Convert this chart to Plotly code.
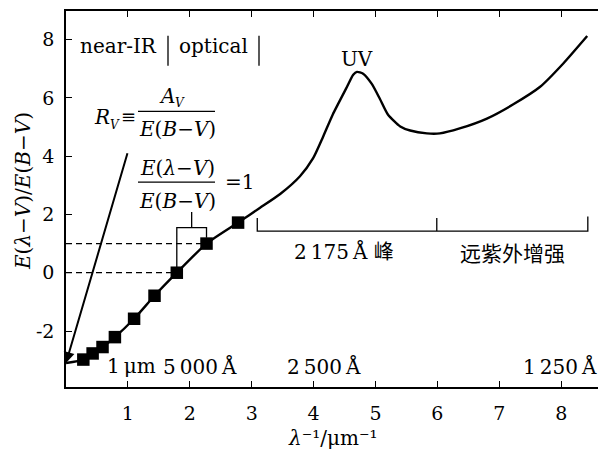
import plotly.graph_objects as go

# ---------------- data ----------------
# photometric band points (squares)
band_x = [0.28, 0.43, 0.59, 0.79, 1.10, 1.43, 1.79, 2.27, 2.78]
band_y = [-2.98, -2.77, -2.55, -2.21, -1.58, -0.79, 0.0, 1.0, 1.72]
# curve value at lambda^-1 = 0  (= -R_V)
RV = 3.1
# UV part of the extinction curve
uv_x = [3.13, 3.46, 3.78, 3.99, 4.15, 4.31, 4.54, 4.64, 4.70, 4.80, 4.94, 5.07, 5.20,
        5.40, 5.56, 5.83, 6.04, 6.36, 6.80, 7.22, 7.66, 8.03, 8.42]
uv_y = [2.22, 2.70, 3.31, 3.92, 4.65, 5.43, 6.38, 6.79, 6.89, 6.83, 6.48, 5.97, 5.43,
        5.02, 4.88, 4.78, 4.78, 4.95, 5.29, 5.77, 6.38, 7.17, 8.12]
# R_V line (from top end down to the arrow tip at -R_V)
rv_line_x = [1.0, 0.0]
rv_line_y = [4.15, -RV]

x_ticks = [1, 2, 3, 4, 5, 6, 7, 8]
y_ticks = [-2, 0, 2, 4, 6, 8]
y_tick_text = ["-2", "0", "2", "4", "6", "8"]

wl_labels = ["1\u2009μm", "5\u2009000\u2009Å", "2\u2009500\u2009Å", "1\u2009250\u2009Å"]

# ---------------- layout helpers ----------------
W_FIG, H_FIG = 606, 460
OFF = 8                      # page body margin
L, R, T, B = 58, 8, 1, 81
PW, PH = W_FIG - L - R, H_FIG - T - B
X0 = 0.0
X1 = PW / 61.9
Y1 = 8.98
Y0 = Y1 - PH / 29.3


def fx(px):  # page pixel -> paper x
    return (px - OFF - L) / PW


def fy(py):  # page pixel -> paper y
    return 1 - (py - OFF - T) / PH


def dx(px):
    return X0 + fx(px) * (X1 - X0)


def dy(py):
    return Y0 + fy(py) * (Y1 - Y0)


FONT = "DejaVu Serif, Liberation Serif, Noto Sans CJK SC, serif"
CJK = "Noto Sans CJK SC, DejaVu Serif, serif"
FS = 20

fig = go.Figure()

curve_x = [0.0] + band_x + uv_x
curve_y = [-RV] + band_y + uv_y
fig.add_trace(go.Scatter(x=curve_x, y=curve_y, mode="lines",
                         line=dict(color="black", width=2.4, shape="spline", smoothing=0.6),
                         hoverinfo="skip", showlegend=False, cliponaxis=False))
fig.add_trace(go.Scatter(x=band_x, y=band_y, mode="markers",
                         marker=dict(symbol="square", size=12.5, color="black"),
                         showlegend=False))

# R_V line with arrow head
fig.add_annotation(x=rv_line_x[1], y=rv_line_y[1], ax=rv_line_x[0], ay=rv_line_y[0],
                   xref="x", yref="y", axref="x", ayref="y", text="", showarrow=True,
                   arrowhead=2, arrowsize=1.1, arrowwidth=2, arrowcolor="black", standoff=0)

# dashed reference lines at V (0) and B (1)
iv, ib = 6, 7
for i in (iv, ib):
    fig.add_trace(go.Scatter(x=[0, band_x[i]], y=[band_y[i], band_y[i]], mode="lines",
                             line=dict(color="black", width=1.3, dash="6px,4px"),
                             hoverinfo="skip", showlegend=False))

# small bracket between V and B
yb = 1.55
xm = (band_x[iv] + band_x[ib]) / 2
fig.add_trace(go.Scatter(
    x=[band_x[iv], band_x[iv], band_x[ib], band_x[ib], None, xm, xm],
    y=[band_y[iv] + 0.2, yb, yb, band_y[ib] + 0.2, None, yb, 2.08],
    mode="lines", line=dict(color="black", width=1.3), hoverinfo="skip", showlegend=False))

# big bracket 2175 A bump / far-UV rise
bx = [3.09, 5.99, 8.43]
ybb, ytop = 1.43, 1.88
fig.add_trace(go.Scatter(
    x=[bx[0], bx[0], bx[2], bx[2], None, bx[1], bx[1]],
    y=[ytop, ybb, ybb, ytop + 0.05, None, ybb, ytop],
    mode="lines", line=dict(color="black", width=1.3), hoverinfo="skip", showlegend=False))

# near-IR | optical separators
for px in (168, 259):
    fig.add_shape(type="line", xref="x", yref="y", x0=dx(px), x1=dx(px), y0=dy(34), y1=dy(64),
                  line=dict(color="black", width=1.3))

# fraction bars
for py in (110, 181):
    fig.add_shape(type="line", xref="x", yref="y", x0=dx(138), x1=dx(215), y0=dy(py), y1=dy(py),
                  line=dict(color="black", width=1.2))


def txt(px, py, s, size=FS, family=FONT, xanchor="center", angle=0):
    fig.add_annotation(x=fx(px), y=fy(py), xref="paper", yref="paper", text=s, showarrow=False,
                       font=dict(family=family, size=size, color="black"), borderpad=0,
                       xanchor=xanchor, yanchor="middle", textangle=angle)


txt(118, 44, "near-IR")
txt(213, 44, "optical")
txt(357, 57, "UV")
# R_V = A_V / E(B-V)
txt(102, 116, "<i>R</i>")
txt(115, 124, "<i>V</i>", size=12)
txt(128, 115, "≡", size=18)
txt(167, 94, "<i>A</i>")
txt(180, 101, "<i>V</i>", size=12)
txt(177, 128, "<i>E</i>(<i>B</i>−<i>V</i>)")
txt(177, 167, "<i>E</i>(<i>λ</i>−<i>V</i>)")
txt(177, 200, "<i>E</i>(<i>B</i>−<i>V</i>)")
txt(239, 181, "=1")
txt(344, 250, "2\u2009175\u2009Å <span style='font-family:Noto Sans CJK SC'>峰</span>")
txt(513, 251, "远紫外增强", size=21, family=CJK)

wl_px = [131, 200, 324, 560]
for s, px in zip(wl_labels, wl_px):
    txt(px, 366, s)

# axis titles
txt(23, 190, "<i>E</i>(<i>λ</i>−<i>V</i>)/<i>E</i>(<i>B</i>−<i>V</i>)", angle=-90)
txt(333, 438, "<i>λ</i>\u207b\u00b9/μm\u207b\u00b9")

fig.update_xaxes(range=[X0, X1], tickvals=x_ticks, ticks="inside", ticklen=6, tickwidth=1.3,
                 tickcolor="black", showline=True, linecolor="black", linewidth=1.5,
                 mirror="ticks", showgrid=False, zeroline=False, ticklabelstandoff=8,
                 tickfont=dict(family=FONT, size=19, color="black"))
fig.update_yaxes(range=[Y0, Y1], tickvals=y_ticks, ticktext=y_tick_text, ticks="inside",
                 ticklen=6, tickwidth=1.3, tickcolor="black", showline=True, linecolor="black",
                 linewidth=1.5, mirror="ticks", showgrid=False, zeroline=False,
                 ticklabelstandoff=6, tickfont=dict(family=FONT, size=19, color="black"))

fig.update_layout(width=W_FIG, height=H_FIG, autosize=False,
                  margin=dict(l=L, r=R, t=T, b=B, pad=0),
                  plot_bgcolor="white", paper_bgcolor="white", showlegend=False)

fig.write_html("out.html")
